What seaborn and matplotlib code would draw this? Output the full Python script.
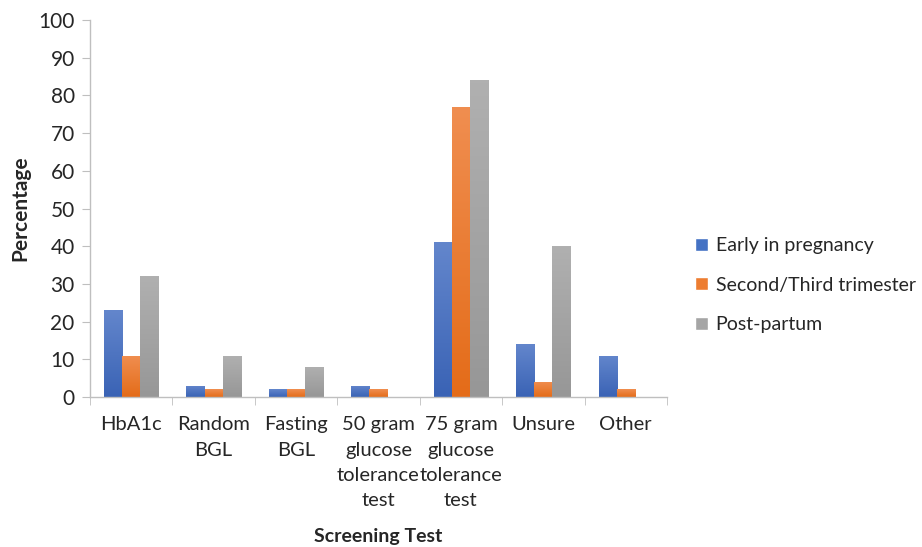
import numpy as np
import pandas as pd
import matplotlib
matplotlib.use("Agg")
import matplotlib.pyplot as plt
import seaborn as sns
from matplotlib.colors import LinearSegmentedColormap

tests = ["HbA1c", "Random\nBGL", "Fasting\nBGL", "50 gram\nglucose\ntolerance\ntest",
         "75 gram\nglucose\ntolerance\ntest", "Unsure", "Other"]
series = ["Early in pregnancy", "Second/Third trimester", "Post-partum"]
early = [23, 3, 2, 3, 41, 14, 11]
second = [11, 2, 2, 2, 77, 4, 2]
post = [32, 11, 8, 0, 84, 40, 0]

colors = ["#4472C4", "#ED7D31", "#A5A5A5"]
grad = [("#6386CC", "#3A63B5"), ("#F08E50", "#E46C19"), ("#B0B0B0", "#979797")]

df = pd.DataFrame({
    "test": tests * 3,
    "series": [series[0]] * 7 + [series[1]] * 7 + [series[2]] * 7,
    "value": early + second + post,
})

sns.set_style("white")
plt.rcParams["font.family"] = ["Lato", "DejaVu Sans"]

fig = plt.figure(figsize=(9.22, 5.47), dpi=100)
ax = fig.add_axes([0.0976, 0.2742, 0.6258, 0.6892])

sns.barplot(data=df, x="test", y="value", hue="series", palette=colors,
            width=0.66, gap=0, saturation=1, ax=ax, legend=True)

# gradient fill like the original
for patch in ax.patches:
    h = patch.get_height()
    if h <= 0:
        continue
    fc = matplotlib.colors.to_hex(patch.get_facecolor())
    idx = [c.lower() for c in colors].index(fc.lower())
    cmap = LinearSegmentedColormap.from_list("g", [grad[idx][1], grad[idx][0]])
    x0 = patch.get_x()
    w = patch.get_width()
    img = ax.imshow(np.linspace(0, 1, 100).reshape(-1, 1), cmap=cmap, origin="lower",
                    extent=[x0, x0 + w, 0, h], aspect="auto", zorder=patch.get_zorder() + 0.1)
    img.set_clip_path(patch)

ax.set_xlim(-0.5, 6.5)
ax.set_ylim(0, 100)
ax.set_yticks(range(0, 101, 10))
ax.set_ylabel("Percentage", fontsize=15, fontweight="bold", labelpad=6)
ax.set_xlabel("Screening Test", fontsize=14, fontweight="bold", labelpad=14)

for s in ["top", "right"]:
    ax.spines[s].set_visible(False)
for s in ["left", "bottom"]:
    ax.spines[s].set_color("#BFBFBF")
    ax.spines[s].set_linewidth(1)

ax.tick_params(axis="y", which="major", length=6, color="#BFBFBF", labelsize=15, left=True, pad=5)
ax.tick_params(axis="x", which="major", length=0, labelsize=14.5, pad=14)
ax.set_xticks(np.arange(-0.5, 7, 1), minor=True)
ax.tick_params(axis="x", which="minor", length=6, color="#BFBFBF", bottom=True)
for t in ax.get_xticklabels():
    t.set_linespacing(1.58)
    t.set_verticalalignment("top")

ax.legend(loc="center left", bbox_to_anchor=(1.049, 0.297), frameon=False, fontsize=14,
          handlelength=0.65, handleheight=0.65, handletextpad=0.4, labelspacing=1.15,
          borderaxespad=0, borderpad=0)

fig.savefig("out.png", dpi=100)
